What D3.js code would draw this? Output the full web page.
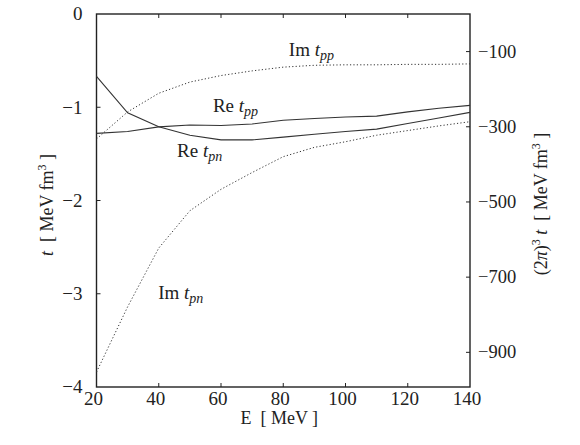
<!DOCTYPE html>
<html>
<head>
<meta charset="utf-8">
<script src="https://cdn.jsdelivr.net/npm/d3@7"></script>
<style>
  body { margin: 0; background: #fff; }
  svg text { font-family: "Liberation Serif", "DejaVu Serif", serif; fill: #222; white-space: pre; }
</style>
</head>
<body>
<svg id="chart" width="580" height="445"></svg>
<script>
// energies (MeV)
const energies = [20, 30, 40, 50, 60, 70, 80, 90, 100, 110, 120, 130, 140];

// t in MeV fm^3
const re_tpp = [-1.28, -1.26, -1.21, -1.19, -1.195, -1.18, -1.14, -1.12, -1.105, -1.095, -1.05, -1.01, -0.98];
const re_tpn = [-0.67, -1.06, -1.21, -1.30, -1.35, -1.35, -1.32, -1.29, -1.26, -1.235, -1.175, -1.115, -1.055];
const im_tpp = [-1.34, -1.05, -0.85, -0.73, -0.66, -0.61, -0.57, -0.55, -0.545, -0.545, -0.54, -0.54, -0.535];
const im_tpn = [-3.84, -3.14, -2.51, -2.11, -1.88, -1.70, -1.53, -1.43, -1.37, -1.30, -1.25, -1.20, -1.155];

const x_ticks = [20, 40, 60, 80, 100, 120, 140];
const left_ticks = [0, -1, -2, -3, -4];
const right_ticks = [-100, -300, -500, -700, -900];

// curve labels: [prefix, subscript, E, t]
const curve_labels = [
    ['Im ', 'pp', 81.8, -0.45],
    ['Re ', 'pp', 57.4, -1.05],
    ['Re ', 'pn', 45.9, -1.53],
    ['Im ', 'pn', 39.8, -3.06]
];

const factor = Math.pow(2 * Math.PI, 3);
const margin = {left: 96.5, right: 110, top: 14, bottom: 58};
const width = 580, height = 445;
const plot_w = width - margin.left - margin.right;
const plot_h = height - margin.top - margin.bottom;

const svg = d3.select('#chart');
const grp = svg.append('g')
    .attr('transform', 'translate(' + margin.left + ',' + margin.top + ')');

const x_scale = d3.scaleLinear().domain([20, 140]).range([0, plot_w]);
const y_scale = d3.scaleLinear().domain([0, -4]).range([0, plot_h]);
const y2_scale = d3.scaleLinear().domain([0, -4 * factor]).range([0, plot_h]);

const fmt = d3.format('d');
const tick_len = 4;

// frame
grp.append('rect')
    .attr('width', plot_w)
    .attr('height', plot_h)
    .attr('fill', 'none')
    .attr('stroke', '#222')
    .attr('stroke-width', 1.4);

// bottom + top ticks
grp.selectAll('.xtick')
    .data(x_ticks.slice(1, -1))
    .enter()
  .append('path')
    .attr('d', d => `M${x_scale(d)},${plot_h}v${-tick_len}M${x_scale(d)},0v${tick_len}`)
    .attr('stroke', '#222')
    .attr('stroke-width', 1);
grp.selectAll('.xlab')
    .data(x_ticks)
    .enter()
  .append('text')
    .attr('x', d => x_scale(d) - 3)
    .attr('y', plot_h + 18)
    .attr('text-anchor', 'middle')
    .style('font-size', '19px')
    .text(fmt);

// left ticks
grp.selectAll('.ltick')
    .data(left_ticks.slice(1, -1))
    .enter()
  .append('path')
    .attr('d', d => `M0,${y_scale(d)}h${tick_len}`)
    .attr('stroke', '#222')
    .attr('stroke-width', 1);
grp.selectAll('.llab')
    .data(left_ticks)
    .enter()
  .append('text')
    .attr('x', -14)
    .attr('y', d => y_scale(d))
    .attr('dy', '0.33em')
    .attr('text-anchor', 'end')
    .style('font-size', '19px')
    .text(fmt);

// right ticks, scaled by (2 pi)^3
grp.selectAll('.rtick')
    .data(right_ticks)
    .enter()
  .append('path')
    .attr('d', d => `M${plot_w},${y2_scale(d)}h${-tick_len}`)
    .attr('stroke', '#222')
    .attr('stroke-width', 1);
grp.selectAll('.rlab')
    .data(right_ticks)
    .enter()
  .append('text')
    .attr('x', plot_w + 8)
    .attr('y', d => y2_scale(d))
    .attr('dy', '0.33em')
    .style('font-size', '18.5px')
    .text(fmt);

// curves
const line = d3.line()
    .x((d, i) => x_scale(energies[i]))
    .y(d => y_scale(d));

const series = [
    {values: re_tpp, dash: null},
    {values: re_tpn, dash: null},
    {values: im_tpp, dash: '1.2,2.2'},
    {values: im_tpn, dash: '1.2,2.2'}
];
grp.selectAll('.curve')
    .data(series)
    .enter()
  .append('path')
    .attr('d', d => line(d.values))
    .attr('fill', 'none')
    .attr('stroke', '#333')
    .attr('stroke-width', d => d.dash ? 1 : 1.1)
    .attr('stroke-dasharray', d => d.dash);

// curve labels
curve_labels.forEach(function(c) {
    const t = grp.append('text')
        .attr('x', x_scale(c[2]))
        .attr('y', y_scale(c[3]))
        .style('font-size', '19px');
    t.append('tspan').text(c[0]);
    t.append('tspan').style('font-style', 'italic').text('t');
    t.append('tspan').style('font-style', 'italic').style('font-size', '14px')
        .attr('dy', 4).text(c[1]);
});

// axis titles
const xt = svg.append('text')
    .attr('x', margin.left + plot_w / 2 - 4)
    .attr('y', 424)
    .attr('text-anchor', 'middle')
    .style('font-size', '18px');
xt.append('tspan').text('E  [ MeV ]');

const lt = svg.append('text')
    .attr('transform', 'translate(53,205) rotate(-90)')
    .attr('text-anchor', 'middle')
    .style('font-size', '18px');
lt.append('tspan').style('font-style', 'italic').text('t');
lt.append('tspan').text('  [ MeV fm');
lt.append('tspan').style('font-size', '12px').attr('dy', -7).text('3');
lt.append('tspan').attr('dy', 7).text(' ]');

const rt = svg.append('text')
    .attr('transform', 'translate(547,204) rotate(-90)')
    .attr('text-anchor', 'middle')
    .style('font-size', '18px');
rt.append('tspan').text('(2');
rt.append('tspan').style('font-style', 'italic').text('π');
rt.append('tspan').text(')');
rt.append('tspan').style('font-size', '12px').attr('dy', -7).text('3');
rt.append('tspan').attr('dy', 7).style('font-style', 'italic').text(' t');
rt.append('tspan').text('  [ MeV fm');
rt.append('tspan').style('font-size', '12px').attr('dy', -7).text('3');
rt.append('tspan').attr('dy', 7).text(' ]');
</script>
</body>
</html>
